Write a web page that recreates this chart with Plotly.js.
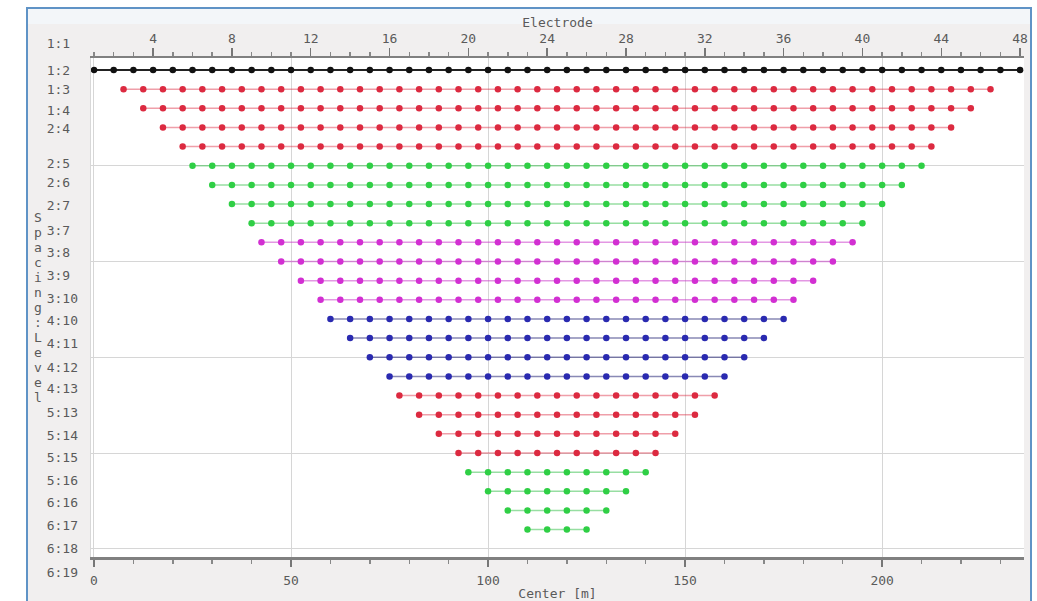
<!DOCTYPE html>
<html>
<head>
<meta charset="utf-8">
<script src="https://cdn.plot.ly/plotly-3.0.1.min.js"></script>
<style>
  html, body { margin: 0; padding: 0; background: #ffffff; }
  #chart { width: 1037px; height: 601px; }
</style>
</head>
<body>
<div id="chart"></div>
<script>
// Electrode numbers along the survey line (5 m spacing, electrode 1 at 0 m)
const electrodes = [1,2,3,4,5,6,7,8,9,10,11,12,13,14,15,16,17,18,19,20,21,22,23,24,
  25,26,27,28,29,30,31,32,33,34,35,36,37,38,39,40,41,42,43,44,45,46,47,48];

// Spacing:Level tick labels
const levelLabels = ['1:1','1:2','1:3','1:4','2:4','2:5','2:6','2:7','3:7','3:8','3:9','3:10',
  '4:10','4:11','4:12','4:13','5:13','5:14','5:15','5:16','6:16','6:17','6:18','6:19'];

// Measurement centers [m] for each pseudo-section row, grouped by spacing band
const redUpper = [
  [7.5,12.5,17.5,22.5,27.5,32.5,37.5,42.5,47.5,52.5,57.5,62.5,67.5,72.5,77.5,82.5,87.5,92.5,97.5,102.5,107.5,112.5,117.5,122.5,127.5,132.5,137.5,142.5,147.5,152.5,157.5,162.5,167.5,172.5,177.5,182.5,187.5,192.5,197.5,202.5,207.5,212.5,217.5,222.5,227.5],
  [12.5,17.5,22.5,27.5,32.5,37.5,42.5,47.5,52.5,57.5,62.5,67.5,72.5,77.5,82.5,87.5,92.5,97.5,102.5,107.5,112.5,117.5,122.5,127.5,132.5,137.5,142.5,147.5,152.5,157.5,162.5,167.5,172.5,177.5,182.5,187.5,192.5,197.5,202.5,207.5,212.5,217.5,222.5],
  [17.5,22.5,27.5,32.5,37.5,42.5,47.5,52.5,57.5,62.5,67.5,72.5,77.5,82.5,87.5,92.5,97.5,102.5,107.5,112.5,117.5,122.5,127.5,132.5,137.5,142.5,147.5,152.5,157.5,162.5,167.5,172.5,177.5,182.5,187.5,192.5,197.5,202.5,207.5,212.5,217.5],
  [22.5,27.5,32.5,37.5,42.5,47.5,52.5,57.5,62.5,67.5,72.5,77.5,82.5,87.5,92.5,97.5,102.5,107.5,112.5,117.5,122.5,127.5,132.5,137.5,142.5,147.5,152.5,157.5,162.5,167.5,172.5,177.5,182.5,187.5,192.5,197.5,202.5,207.5,212.5]
];
const greenUpper = [
  [25,30,35,40,45,50,55,60,65,70,75,80,85,90,95,100,105,110,115,120,125,130,135,140,145,150,155,160,165,170,175,180,185,190,195,200,205,210],
  [30,35,40,45,50,55,60,65,70,75,80,85,90,95,100,105,110,115,120,125,130,135,140,145,150,155,160,165,170,175,180,185,190,195,200,205],
  [35,40,45,50,55,60,65,70,75,80,85,90,95,100,105,110,115,120,125,130,135,140,145,150,155,160,165,170,175,180,185,190,195,200],
  [40,45,50,55,60,65,70,75,80,85,90,95,100,105,110,115,120,125,130,135,140,145,150,155,160,165,170,175,180,185,190,195]
];
const magentaRows = [
  [42.5,47.5,52.5,57.5,62.5,67.5,72.5,77.5,82.5,87.5,92.5,97.5,102.5,107.5,112.5,117.5,122.5,127.5,132.5,137.5,142.5,147.5,152.5,157.5,162.5,167.5,172.5,177.5,182.5,187.5,192.5],
  [47.5,52.5,57.5,62.5,67.5,72.5,77.5,82.5,87.5,92.5,97.5,102.5,107.5,112.5,117.5,122.5,127.5,132.5,137.5,142.5,147.5,152.5,157.5,162.5,167.5,172.5,177.5,182.5,187.5],
  [52.5,57.5,62.5,67.5,72.5,77.5,82.5,87.5,92.5,97.5,102.5,107.5,112.5,117.5,122.5,127.5,132.5,137.5,142.5,147.5,152.5,157.5,162.5,167.5,172.5,177.5,182.5],
  [57.5,62.5,67.5,72.5,77.5,82.5,87.5,92.5,97.5,102.5,107.5,112.5,117.5,122.5,127.5,132.5,137.5,142.5,147.5,152.5,157.5,162.5,167.5,172.5,177.5]
];
const blueRows = [
  [60,65,70,75,80,85,90,95,100,105,110,115,120,125,130,135,140,145,150,155,160,165,170,175],
  [65,70,75,80,85,90,95,100,105,110,115,120,125,130,135,140,145,150,155,160,165,170],
  [70,75,80,85,90,95,100,105,110,115,120,125,130,135,140,145,150,155,160,165],
  [75,80,85,90,95,100,105,110,115,120,125,130,135,140,145,150,155,160]
];
const redLower = [
  [77.5,82.5,87.5,92.5,97.5,102.5,107.5,112.5,117.5,122.5,127.5,132.5,137.5,142.5,147.5,152.5,157.5],
  [82.5,87.5,92.5,97.5,102.5,107.5,112.5,117.5,122.5,127.5,132.5,137.5,142.5,147.5,152.5],
  [87.5,92.5,97.5,102.5,107.5,112.5,117.5,122.5,127.5,132.5,137.5,142.5,147.5],
  [92.5,97.5,102.5,107.5,112.5,117.5,122.5,127.5,132.5,137.5,142.5]
];
const greenLower = [
  [95,100,105,110,115,120,125,130,135,140],
  [100,105,110,115,120,125,130,135],
  [105,110,115,120,125,130],
  [110,115,120,125]
];

// Band colours: [marker, connecting line]
const bands = [
  { rows: redUpper,    dot: '#dc2a40', line: 'rgba(220,42,64,0.45)' },
  { rows: greenUpper,  dot: '#2fcf45', line: 'rgba(47,190,69,0.5)' },
  { rows: magentaRows, dot: '#d22fd2', line: 'rgba(200,47,200,0.5)' },
  { rows: blueRows,    dot: '#2a2ab0', line: 'rgba(40,40,120,0.55)' },
  { rows: redLower,    dot: '#dc2a40', line: 'rgba(220,42,64,0.45)' },
  { rows: greenLower,  dot: '#2fcf45', line: 'rgba(47,190,69,0.5)' }
];

// Vertical slot of each Spacing:Level label, in row units
const levelSlots = [-1.41,0,1.04,2.09,3.03,4.86,5.85,7.05,8.36,9.50,10.70,11.91,
  13.05,14.26,15.51,16.61,17.86,19.06,20.21,21.41,22.56,23.76,24.96,26.21];

const FONT = 'DejaVu Sans Mono, monospace';
const TXT = '#5a5a5a';

const traces = [];

// Electrode row across the top
traces.push({
  type: 'scatter', mode: 'lines+markers',
  x: electrodes, y: electrodes.map(() => 0),
  xaxis: 'x2', yaxis: 'y',
  line: { color: '#222222', width: 2 },
  marker: { color: '#111111', size: 6.5 },
  hoverinfo: 'x', showlegend: false
});

let row = 1;
bands.forEach(b => {
  b.rows.forEach(xs => {
    const level = row;
    traces.push({
      type: 'scatter', mode: 'lines+markers',
      x: xs, y: xs.map(() => level),
      xaxis: 'x', yaxis: 'y',
      line: { color: b.line, width: 1.5 },
      marker: { color: b.dot, size: 6.5 },
      hoverinfo: 'x', showlegend: false
    });
    row++;
  });
});

// Carrier for the Spacing:Level label axis
traces.push({
  type: 'scatter', mode: 'markers',
  x: [0.5], y: [0], xaxis: 'x3', yaxis: 'y2',
  marker: { opacity: 0, size: 1 }, hoverinfo: 'skip', showlegend: false
});

const W = 1037, H = 601;
const L = 91, R = 13, T = 20, B = 20;
const pw = W - L - R, ph = H - T - B;
const px = v => (v - L) / pw;
const py = v => (H - B - v) / ph;

// Stacked axis caption
const caption = 'Spacing:Level'.split('');
const annotations = caption.map((ch, i) => ({
  xref: 'paper', yref: 'paper',
  x: px(38), y: py(218 + i * 14.92),
  xanchor: 'center', yanchor: 'middle',
  text: ch, showarrow: false,
  font: { family: FONT, size: 13, color: TXT }
}));

const layout = {
  width: W, height: H,
  margin: { l: L, r: R, t: T, b: B },
  paper_bgcolor: '#ffffff',
  plot_bgcolor: 'rgba(0,0,0,0)',
  font: { family: FONT, size: 13, color: TXT },
  showlegend: false,
  xaxis: {
    range: [-0.76, 236.0],
    anchor: 'y', side: 'bottom',
    tickmode: 'linear', tick0: 0, dtick: 50,
    ticks: 'outside', ticklen: 7, tickwidth: 1.5, tickcolor: '#777',
    minor: { tickmode: 'linear', tick0: 0, dtick: 10, ticks: 'outside', ticklen: 4, tickcolor: '#888', showgrid: false },
    showline: true, linecolor: '#808080', linewidth: 2.5,
    showgrid: true, gridcolor: '#d6d6d6', gridwidth: 1,
    zeroline: false,
    tickfont: { family: FONT, size: 13, color: TXT },
    ticklabelstandoff: 3,
    title: { text: 'Center [m]', standoff: 3, font: { family: FONT, size: 13, color: TXT } }
  },
  xaxis2: {
    range: [0.848, 48.2],
    overlaying: 'x', anchor: 'y', side: 'top',
    tickmode: 'linear', tick0: 0, dtick: 4,
    ticks: 'outside', ticklen: 8, tickwidth: 1.5, tickcolor: '#777',
    minor: { tickmode: 'linear', tick0: 0, dtick: 1, ticks: 'outside', ticklen: 4, tickcolor: '#888', showgrid: false },
    showline: true, linecolor: '#808080', linewidth: 2,
    showgrid: false, zeroline: false,
    tickfont: { family: FONT, size: 13, color: TXT },
    ticklabelstandoff: 0,
    title: { text: 'Electrode', standoff: 0, font: { family: FONT, size: 13, color: TXT } }
  },
  yaxis: {
    domain: [py(557), py(58)],
    range: [25.43, -0.627],
    anchor: 'x',
    tickmode: 'linear', tick0: 0, dtick: 5,
    showticklabels: false, ticks: '',
    showgrid: true, gridcolor: '#d6d6d6', gridwidth: 1,
    zeroline: false,
    showline: true, linecolor: '#d8d8d8', linewidth: 1
  },
  xaxis3: {
    domain: [0, 1], range: [0, 1], anchor: 'y2', visible: false
  },
  yaxis2: {
    domain: [0, 1],
    range: [26.68, -2.611],
    anchor: 'x3', side: 'left',
    tickmode: 'array', tickvals: levelSlots,
    ticktext: levelLabels.map(s => s.length < 4 ? s + '\u00a0' : s),
    ticks: '', showgrid: false, zeroline: false, showline: false,
    tickfont: { family: FONT, size: 13, color: TXT },
    ticklabelstandoff: 12
  },
  shapes: [
    // window panel with blue frame
    { type: 'rect', xref: 'paper', yref: 'paper', layer: 'below',
      x0: px(27), x1: px(1031), y0: py(640), y1: py(8),
      fillcolor: '#f1efef', line: { color: '#5f93c6', width: 2 } },
    // light strip at the top of the panel
    { type: 'rect', xref: 'paper', yref: 'paper', layer: 'below',
      x0: px(28), x1: px(1030), y0: py(24), y1: py(9),
      fillcolor: '#f3f6f9', line: { width: 0 } },
    // white plotting region
    { type: 'rect', xref: 'x domain', yref: 'y domain', layer: 'below',
      x0: 0, x1: 1, y0: 0, y1: 1,
      fillcolor: '#ffffff', line: { width: 0 } }
  ],
  annotations: annotations
};

Plotly.newPlot('chart', traces, layout, { displayModeBar: false, staticPlot: true });
</script>
</body>
</html>
